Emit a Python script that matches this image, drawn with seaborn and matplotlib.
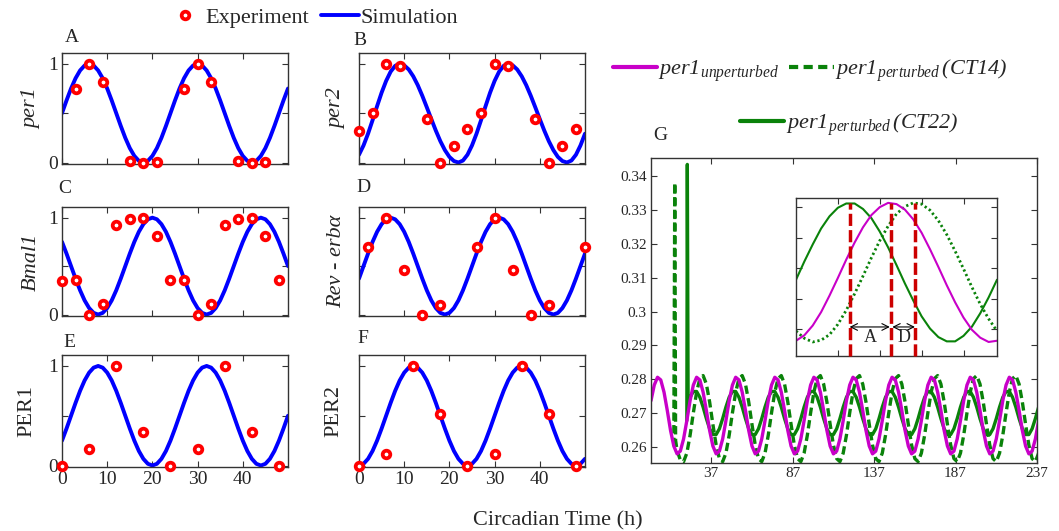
import matplotlib
matplotlib.use('Agg')
import matplotlib.pyplot as plt
from matplotlib.lines import Line2D
import pandas as pd
import seaborn as sns

# ---- panels A-F : normalised expression over two days -------------------
sim_hours = list(range(51))

sim_per1 = [0.5, 0.629, 0.75, 0.854, 0.933, 0.983, 1.0, 0.983, 0.933, 0.854, 0.75, 0.629,
            0.5, 0.371, 0.25, 0.146, 0.067, 0.017, 0.0, 0.017, 0.067, 0.146, 0.25, 0.371,
            0.5, 0.629, 0.75, 0.854, 0.933, 0.983, 1.0, 0.983, 0.933, 0.854, 0.75, 0.629,
            0.5, 0.371, 0.25, 0.146, 0.067, 0.017, 0.0, 0.017, 0.067, 0.146, 0.25, 0.371,
            0.5, 0.629, 0.75]
sim_per2 = [0.079, 0.173, 0.292, 0.429, 0.571, 0.708, 0.827, 0.921, 0.98, 1.0, 0.985, 0.943,
            0.874, 0.784, 0.677, 0.56, 0.44, 0.323, 0.216, 0.126, 0.057, 0.015, 0.0, 0.02,
            0.079, 0.173, 0.292, 0.429, 0.571, 0.708, 0.827, 0.921, 0.98, 1.0, 0.985, 0.943,
            0.874, 0.784, 0.677, 0.56, 0.44, 0.323, 0.216, 0.126, 0.057, 0.015, 0.0, 0.02,
            0.079, 0.173, 0.292]
sim_bmal1 = [0.75, 0.629, 0.5, 0.371, 0.25, 0.146, 0.067, 0.017, 0.0, 0.017, 0.067, 0.146,
             0.25, 0.371, 0.5, 0.629, 0.75, 0.854, 0.933, 0.983, 1.0, 0.983, 0.933, 0.854,
             0.75, 0.629, 0.5, 0.371, 0.25, 0.146, 0.067, 0.017, 0.0, 0.017, 0.067, 0.146,
             0.25, 0.371, 0.5, 0.629, 0.75, 0.854, 0.933, 0.983, 1.0, 0.983, 0.933, 0.854,
             0.75, 0.629, 0.5]
sim_reverba = [0.371, 0.5, 0.629, 0.75, 0.854, 0.933, 0.983, 1.0, 0.983, 0.933, 0.854, 0.75,
               0.629, 0.5, 0.371, 0.25, 0.146, 0.067, 0.017, 0.0, 0.017, 0.067, 0.146, 0.25,
               0.371, 0.5, 0.629, 0.75, 0.854, 0.933, 0.983, 1.0, 0.983, 0.933, 0.854, 0.75,
               0.629, 0.5, 0.371, 0.25, 0.146, 0.067, 0.017, 0.0, 0.017, 0.067, 0.146, 0.25,
               0.371, 0.5, 0.629]
sim_PER1 = [0.25, 0.371, 0.5, 0.629, 0.75, 0.854, 0.933, 0.983, 1.0, 0.983, 0.933, 0.854,
            0.75, 0.629, 0.5, 0.371, 0.25, 0.146, 0.067, 0.017, 0.0, 0.017, 0.067, 0.146,
            0.25, 0.371, 0.5, 0.629, 0.75, 0.854, 0.933, 0.983, 1.0, 0.983, 0.933, 0.854,
            0.75, 0.629, 0.5, 0.371, 0.25, 0.146, 0.067, 0.017, 0.0, 0.017, 0.067, 0.146,
            0.25, 0.371, 0.5]
sim_PER2 = [0.0, 0.017, 0.067, 0.146, 0.25, 0.371, 0.5, 0.629, 0.75, 0.854, 0.933, 0.983,
            1.0, 0.983, 0.933, 0.854, 0.75, 0.629, 0.5, 0.371, 0.25, 0.146, 0.067, 0.017,
            0.0, 0.017, 0.067, 0.146, 0.25, 0.371, 0.5, 0.629, 0.75, 0.854, 0.933, 0.983,
            1.0, 0.983, 0.933, 0.854, 0.75, 0.629, 0.5, 0.371, 0.25, 0.146, 0.067, 0.017,
            0.0, 0.017, 0.067]

exp_per1_t = [3, 6, 9, 15, 18, 21, 27, 30, 33, 39, 42, 45]
exp_per1 = [0.75, 1.0, 0.82, 0.02, 0.0, 0.01, 0.75, 1.0, 0.82, 0.02, 0.0, 0.01]
exp_per2_t = [0, 3, 6, 9, 15, 18, 21, 24, 27, 30, 33, 39, 42, 45, 48]
exp_per2 = [0.32, 0.5, 1.0, 0.98, 0.44, 0.0, 0.17, 0.34, 0.5, 1.0, 0.98, 0.44, 0.0, 0.17, 0.34]
exp_bmal1_t = [0, 3, 6, 9, 12, 15, 18, 21, 24, 27, 30, 33, 36, 39, 42, 45, 48]
exp_bmal1 = [0.35, 0.36, 0.0, 0.11, 0.92, 0.99, 1.0, 0.81, 0.36, 0.36, 0.0, 0.11, 0.92, 0.99,
             1.0, 0.81, 0.36]
exp_reverba_t = [2, 6, 10, 14, 18, 26, 30, 34, 38, 42, 50]
exp_reverba = [0.7, 1.0, 0.46, 0.0, 0.1, 0.7, 1.0, 0.46, 0.0, 0.1, 0.7]
exp_PER1_t = [0, 6, 12, 18, 24, 30, 36, 42, 48]
exp_PER1 = [0.0, 0.17, 1.0, 0.34, 0.0, 0.17, 1.0, 0.34, 0.0]
exp_PER2_t = [0, 6, 12, 18, 24, 30, 36, 42, 48]
exp_PER2 = [0.0, 0.12, 1.0, 0.52, 0.0, 0.12, 1.0, 0.52, 0.0]

# ---- panel G : per1 with and without perturbation ------------------------
g_hours = list(range(0, 239, 2))
per1_unpert = [
    0.2737, 0.2783, 0.2806, 0.2798, 0.2762, 0.2708, 0.2649, 0.2603, 0.2580, 0.2588, 0.2624, 0.2678,
    0.2737, 0.2783, 0.2806, 0.2798, 0.2762, 0.2708, 0.2649, 0.2603, 0.2580, 0.2588, 0.2624, 0.2678,
    0.2737, 0.2783, 0.2806, 0.2798, 0.2762, 0.2708, 0.2649, 0.2603, 0.2580, 0.2588, 0.2624, 0.2678,
    0.2737, 0.2783, 0.2806, 0.2798, 0.2762, 0.2708, 0.2649, 0.2603, 0.2580, 0.2588, 0.2624, 0.2678,
    0.2737, 0.2783, 0.2806, 0.2798, 0.2762, 0.2708, 0.2649, 0.2603, 0.2580, 0.2588, 0.2624, 0.2678,
    0.2737, 0.2783, 0.2806, 0.2798, 0.2762, 0.2708, 0.2649, 0.2603, 0.2580, 0.2588, 0.2624, 0.2678,
    0.2737, 0.2783, 0.2806, 0.2798, 0.2762, 0.2708, 0.2649, 0.2603, 0.2580, 0.2588, 0.2624, 0.2678,
    0.2737, 0.2783, 0.2806, 0.2798, 0.2762, 0.2708, 0.2649, 0.2603, 0.2580, 0.2588, 0.2624, 0.2678,
    0.2737, 0.2783, 0.2806, 0.2798, 0.2762, 0.2708, 0.2649, 0.2603, 0.2580, 0.2588, 0.2624, 0.2678,
    0.2737, 0.2783, 0.2806, 0.2798, 0.2762, 0.2708, 0.2649, 0.2603, 0.2580, 0.2588, 0.2624, 0.2678]

ct14_hours = [14, 14.6, 15.1, 16, 18, 20, 22] + list(range(24, 239, 2))
per1_ct14 = [0.2603, 0.338, 0.262, 0.2590, 0.2562, 0.2557, 0.2582,
    0.2635, 0.2701, 0.2762, 0.2802, 0.2811, 0.2786, 0.2733, 0.2667, 0.2606, 0.2566, 0.2557, 0.2582,
    0.2635, 0.2701, 0.2762, 0.2802, 0.2811, 0.2786, 0.2733, 0.2667, 0.2606, 0.2566, 0.2557, 0.2582,
    0.2635, 0.2701, 0.2762, 0.2802, 0.2811, 0.2786, 0.2733, 0.2667, 0.2606, 0.2566, 0.2557, 0.2582,
    0.2635, 0.2701, 0.2762, 0.2802, 0.2811, 0.2786, 0.2733, 0.2667, 0.2606, 0.2566, 0.2557, 0.2582,
    0.2635, 0.2701, 0.2762, 0.2802, 0.2811, 0.2786, 0.2733, 0.2667, 0.2606, 0.2566, 0.2557, 0.2582,
    0.2635, 0.2701, 0.2762, 0.2802, 0.2811, 0.2786, 0.2733, 0.2667, 0.2606, 0.2566, 0.2557, 0.2582,
    0.2635, 0.2701, 0.2762, 0.2802, 0.2811, 0.2786, 0.2733, 0.2667, 0.2606, 0.2566, 0.2557, 0.2582,
    0.2635, 0.2701, 0.2762, 0.2802, 0.2811, 0.2786, 0.2733, 0.2667, 0.2606, 0.2566, 0.2557, 0.2582,
    0.2635, 0.2701, 0.2762, 0.2802, 0.2811, 0.2786, 0.2733, 0.2667, 0.2606, 0.2566, 0.2557, 0.2582]

ct22_hours = [22, 22.3, 22.8] + list(range(24, 239, 2))
per1_ct22 = [0.2678, 0.3434, 0.2720,
    0.2747, 0.2764, 0.2764, 0.2747, 0.2718, 0.2684, 0.2654, 0.2637, 0.2637, 0.2654, 0.2684, 0.2718,
    0.2747, 0.2764, 0.2764, 0.2747, 0.2718, 0.2684, 0.2654, 0.2637, 0.2637, 0.2654, 0.2684, 0.2718,
    0.2747, 0.2764, 0.2764, 0.2747, 0.2718, 0.2684, 0.2654, 0.2637, 0.2637, 0.2654, 0.2684, 0.2718,
    0.2747, 0.2764, 0.2764, 0.2747, 0.2718, 0.2684, 0.2654, 0.2637, 0.2637, 0.2654, 0.2684, 0.2718,
    0.2747, 0.2764, 0.2764, 0.2747, 0.2718, 0.2684, 0.2654, 0.2637, 0.2637, 0.2654, 0.2684, 0.2718,
    0.2747, 0.2764, 0.2764, 0.2747, 0.2718, 0.2684, 0.2654, 0.2637, 0.2637, 0.2654, 0.2684, 0.2718,
    0.2747, 0.2764, 0.2764, 0.2747, 0.2718, 0.2684, 0.2654, 0.2637, 0.2637, 0.2654, 0.2684, 0.2718,
    0.2747, 0.2764, 0.2764, 0.2747, 0.2718, 0.2684, 0.2654, 0.2637, 0.2637, 0.2654, 0.2684, 0.2718,
    0.2747, 0.2764, 0.2764, 0.2747, 0.2718, 0.2684, 0.2654, 0.2637, 0.2637, 0.2654, 0.2684, 0.2718]

g_yticks = [0.26, 0.27, 0.28, 0.29, 0.30, 0.31, 0.32, 0.33, 0.34]
g_yticklabels = ['0.26', '0.27', '0.28', '0.29', '0.3', '0.31', '0.32', '0.33', '0.34']
g_xticks = [37, 87, 137, 187, 237]

# inset: one cycle zoomed, peaks marked
inset_hours = list(range(25))
inset_unpert = [0.2581, 0.2590, 0.2606, 0.2628, 0.2655, 0.2684, 0.2714, 0.2742, 0.2767, 0.2787,
                0.2800, 0.2807, 0.2805, 0.2796, 0.2780, 0.2758, 0.2731, 0.2702, 0.2672, 0.2644,
                0.2619, 0.2599, 0.2586, 0.2579, 0.2581]
inset_ct22 = [0.2681, 0.2711, 0.2739, 0.2765, 0.2785, 0.2799, 0.2806, 0.2806, 0.2797, 0.2782,
              0.2760, 0.2734, 0.2705, 0.2675, 0.2647, 0.2621, 0.2601, 0.2587, 0.2580, 0.2580,
              0.2589, 0.2604, 0.2626, 0.2652, 0.2681]
inset_ct14 = [0.2597, 0.2585, 0.2579, 0.2582, 0.2591, 0.2608, 0.2631, 0.2658, 0.2687, 0.2717,
              0.2745, 0.2769, 0.2789, 0.2801, 0.2807, 0.2805, 0.2795, 0.2778, 0.2755, 0.2728,
              0.2699, 0.2669, 0.2641, 0.2617, 0.2597]
peak_marks = [6.4, 11.3, 14.2]   # CT22, unperturbed, CT14
peak_level = 0.2807

BLUE = '#0000FF'
RED = '#FF0000'
MAGENTA = '#C800C8'
GREEN = '#0A820A'

sns.set_theme(style='white')
plt.rcParams['font.family'] = ['Liberation Serif', 'DejaVu Serif']
# legend labels of panel G are fully italic, digits and brackets included
plt.rcParams['mathtext.fontset'] = 'custom'
plt.rcParams['mathtext.rm'] = 'Liberation Serif:italic'
plt.rcParams['mathtext.it'] = 'Liberation Serif:italic'

W, H = 1059, 531
fig = plt.figure(figsize=(W / 100, H / 100), dpi=100)


def px_axes(x0, y0, x1, y1):
    return fig.add_axes([x0 / W, 1 - y1 / H, (x1 - x0) / W, (y1 - y0) / H])


def style_box(ax, size):
    ax.tick_params(direction='in', top=True, right=True, bottom=True, left=True,
                   length=4, width=0.8, color='#333333', labelsize=size, pad=3)
    for s in ax.spines.values():
        s.set_color('#333333')
        s.set_linewidth(1.0)


panels = [
    ('A', 'per1', 'italic', sim_per1, exp_per1_t, exp_per1, (62, 53, 288, 164), (65, 42), True, False, 5),
    ('B', 'per2', 'italic', sim_per2, exp_per2_t, exp_per2, (359, 53, 585, 164), (353, 45), False, False, 6),
    ('C', 'Bmal1', 'italic', sim_bmal1, exp_bmal1_t, exp_bmal1, (62, 207, 288, 316), (58, 193), True, False, 5),
    ('D', 'Rev - erbα', 'italic', sim_reverba, exp_reverba_t, exp_reverba, (359, 207, 585, 316), (356, 192), False, False, 6),
    ('E', 'PER1', 'normal', sim_PER1, exp_PER1_t, exp_PER1, (62, 355, 288, 467), (63, 347), True, True, 8),
    ('F', 'PER2', 'normal', sim_PER2, exp_PER2_t, exp_PER2, (359, 355, 585, 467), (357, 343), False, True, 8),
]

for letter, name, fstyle, sim, et, ev, box, lpos, ylab, xlab, lpad in panels:
    ax = px_axes(*box)
    sns.lineplot(x=sim_hours, y=sim, color=BLUE, linewidth=2.8, ax=ax, zorder=2)
    sns.scatterplot(x=et, y=ev, color='white', edgecolor=RED, linewidth=2.7, s=30,
                    ax=ax, zorder=3, clip_on=False)
    ax.set_xlim(0, 50)
    ax.set_ylim(-0.015, 1.11)
    ax.set_xticks([0, 10, 20, 30, 40])
    ax.set_yticks([0, 0.5, 1])
    style_box(ax, 14)
    if ylab:
        ax.set_yticklabels(['0', '', '1'])
    else:
        ax.set_yticklabels([])
    if not xlab:
        ax.set_xticklabels([])
    ax.set_xlabel('')
    ax.set_ylabel(name, fontsize=16, style=fstyle, labelpad=lpad)
    fig.text(lpos[0] / W, 1 - lpos[1] / H, letter, fontsize=14, va='baseline')

# panel G
axg = px_axes(651, 158, 1037, 463)
sns.lineplot(x=ct14_hours, y=per1_ct14, color=GREEN, linewidth=2.4,
             linestyle=(0, (2.5, 1.3)), ax=axg)
sns.lineplot(x=ct22_hours, y=per1_ct22, color=GREEN, linewidth=2.4, ax=axg)
sns.lineplot(x=g_hours, y=per1_unpert, color=MAGENTA, linewidth=2.4, ax=axg)
axg.set_xlim(0, 237)
axg.set_ylim(0.2553, 0.3453)
axg.set_xticks(g_xticks)
axg.set_yticks(g_yticks)
axg.set_yticklabels(g_yticklabels)
style_box(axg, 11)
axg.set_xlabel('')
axg.set_ylabel('')
fig.text(653 / W, 1 - 140 / H, 'G', fontsize=14, va='baseline')

# inset
axi = px_axes(796, 198, 997, 356)
axi.set_facecolor('white')
sns.lineplot(x=inset_hours, y=inset_ct14, color=GREEN, linewidth=2.0,
             linestyle=(0, (0.8, 1.0)), ax=axi)
sns.lineplot(x=inset_hours, y=inset_ct22, color=GREEN, linewidth=1.5, ax=axi)
sns.lineplot(x=inset_hours, y=inset_unpert, color=MAGENTA, linewidth=1.5, ax=axi)
axi.vlines(peak_marks, 0.2556, peak_level, colors='#CC0000', linewidth=2.5,
           linestyles=[(0, (3.5, 1.2))], zorder=4, clip_on=False)
arrow_y = 0.26036
axi.annotate('', xy=(peak_marks[0], arrow_y), xytext=(peak_marks[1] - 0.1, arrow_y),
             arrowprops=dict(arrowstyle='<->', color='black', lw=0.8, shrinkA=0, shrinkB=0))
axi.annotate('', xy=(peak_marks[1] + 0.2, arrow_y), xytext=(peak_marks[2], arrow_y),
             arrowprops=dict(arrowstyle='<->', color='black', lw=0.8, shrinkA=0, shrinkB=0))
axi.text((peak_marks[0] + peak_marks[1]) / 2, 0.2586, 'A', fontsize=13, ha='center', va='center')
axi.text((peak_marks[1] + peak_marks[2]) / 2 + 0.1, 0.2586, 'D', fontsize=13, ha='center', va='center')
axi.set_xlim(0, 24)
axi.set_ylim(0.2556, 0.2815)
axi.set_xticks([5, 10, 15, 20])
axi.set_yticks([0.26, 0.265, 0.27, 0.275, 0.28])
axi.set_xticklabels([])
axi.set_yticklabels([])
style_box(axi, 8)
axi.set_xlabel('')
axi.set_ylabel('')

# legends
h_exp = Line2D([], [], linestyle='none', marker='o', markersize=5.5, markerfacecolor='white',
               markeredgecolor=RED, markeredgewidth=2.7)
h_sim = Line2D([], [], color=BLUE, lw=2.8)
fig.legend([h_exp, h_sim], ['Experiment', 'Simulation'], loc='center',
           bbox_to_anchor=(312 / W, 1 - 18 / H), ncol=2, frameon=False, fontsize=16,
           handlelength=1.7, handletextpad=0.05, columnspacing=0.55, borderpad=0, borderaxespad=0)

h_un = Line2D([], [], color=MAGENTA, lw=3)
h_14 = Line2D([], [], color=GREEN, lw=3, linestyle=(0, (2.2, 1.3)))
h_22 = Line2D([], [], color=GREEN, lw=3)
fig.legend([h_un, h_14],
           [r'$\mathit{per1}_{\mathit{unperturbed}}$', r'$\mathit{per1}_{\mathit{perturbed}}\,\mathit{(CT14)}$'],
           loc='center', bbox_to_anchor=(810 / W, 1 - 71 / H), ncol=2, frameon=False, fontsize=16,
           handlelength=2.0, handletextpad=0.05, columnspacing=0.45, borderpad=0, borderaxespad=0)
fig.legend([h_22], [r'$\mathit{per1}_{\mathit{perturbed}}\,\mathit{(CT22)}$'],
           loc='center', bbox_to_anchor=(849 / W, 1 - 125 / H), frameon=False, fontsize=16,
           handlelength=2.0, handletextpad=0.05, borderpad=0, borderaxespad=0)

fig.text(557.5 / W, 1 - 525 / H, 'Circadian Time (h)', fontsize=16, ha='center', va='baseline')

fig.savefig('out.png', dpi=100)
